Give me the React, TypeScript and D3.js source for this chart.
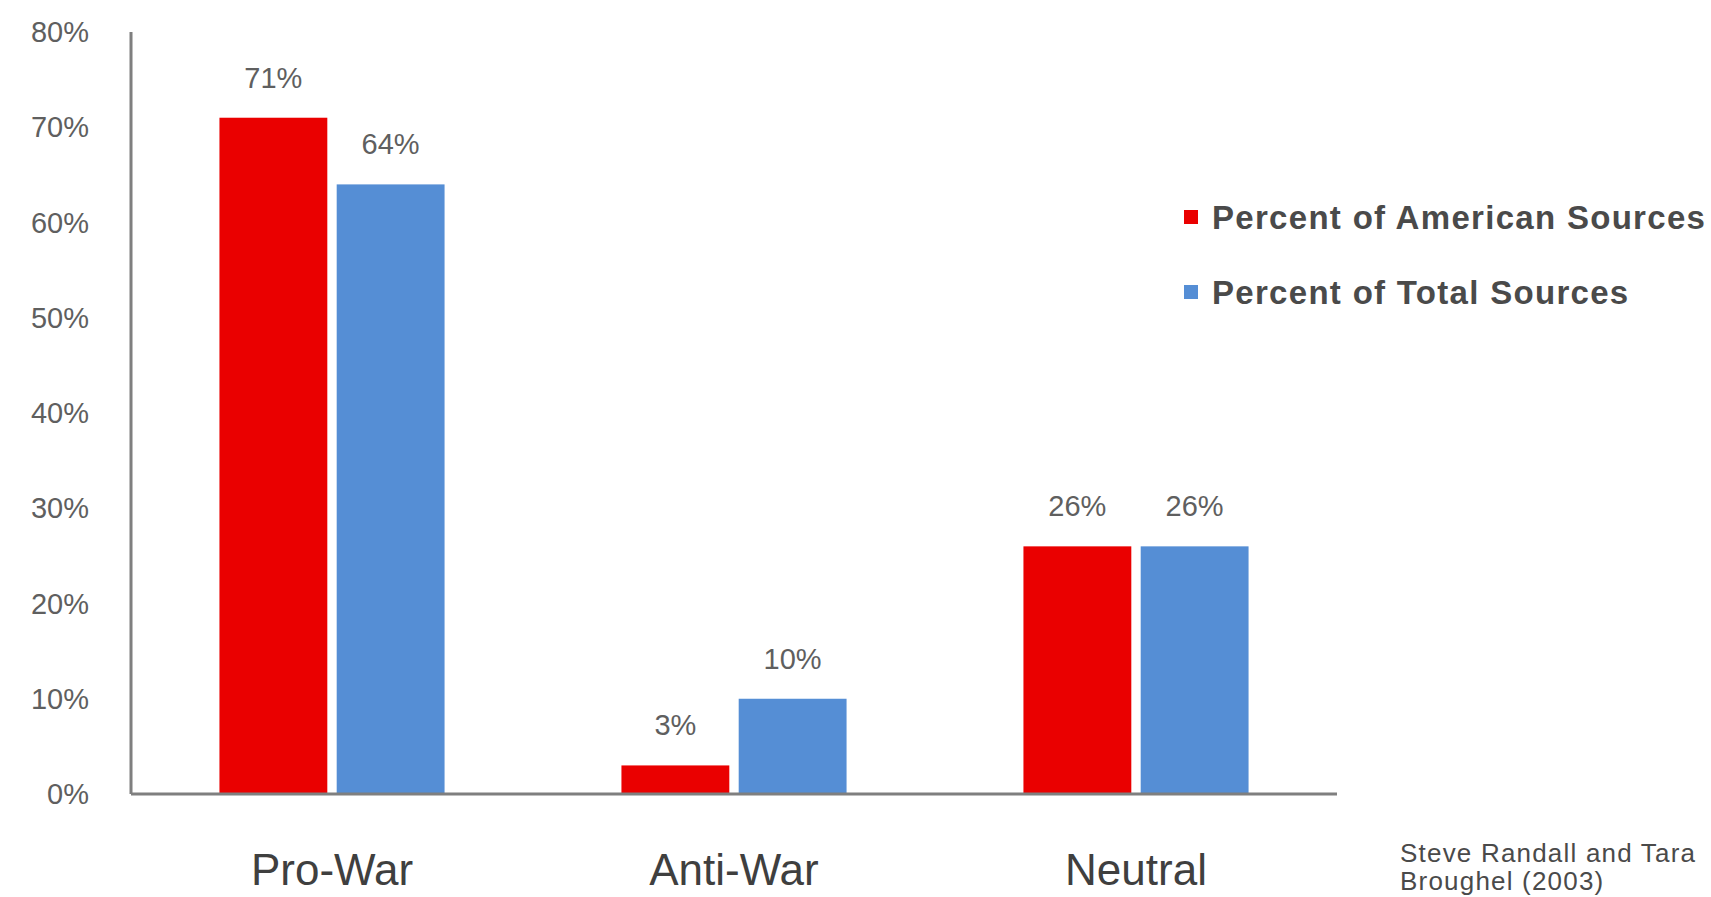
import * as d3 from 'd3';
import { useEffect, useRef } from 'react';

const categories = ['Pro-War', 'Anti-War', 'Neutral'];
const seriesNames = ['Percent of American Sources', 'Percent of Total Sources'];
const americanValues = [71, 3, 26];
const totalValues = [64, 10, 26];
const yTicks = [0, 10, 20, 30, 40, 50, 60, 70, 80];
const sourceLines = ['Steve Randall and Tara', 'Broughel (2003)'];

const colors = ['#ea0000', '#558ed5'];

const App = () => {
  const svgRef = useRef<SVGSVGElement | null>(null);

  useEffect(() => {
    document.body.style.margin = '0';
    const width = 1711;
    const height = 897;
    const left = 131;
    const right = 1337;
    const top = 32;
    const bottom = 794;

    const svg = d3.select(svgRef.current)
      .attr('width', width)
      .attr('height', height)
      .style('font-family', 'Arial, "Liberation Sans", sans-serif');

    const g = svg.append('g');

    const x = d3.scaleBand().domain(categories).range([left, right])
      .paddingInner(0.44).paddingOuter(0.22);
    const inner = d3.scaleBand().domain(seriesNames).range([0, x.bandwidth()])
      .paddingInner(0.08);
    const y = d3.scaleLinear().domain([0, 80]).range([bottom, top]);

    // y tick labels
    g.selectAll('.ytick')
      .data(yTicks)
      .enter()
      .append('text')
      .attr('x', 89)
      .attr('y', (d) => y(d))
      .attr('dy', '0.35em')
      .attr('text-anchor', 'end')
      .attr('fill', '#5f5f5f')
      .style('font-size', '29px')
      .text((d) => `${d}%`);

    // bars
    const series = [americanValues, totalValues];
    series.forEach((vals, si) => {
      g.selectAll(`.bar${si}`)
        .data(vals)
        .enter()
        .append('rect')
        .attr('x', (d, i) => (x(categories[i]) as number) + (inner(seriesNames[si]) as number))
        .attr('y', (d) => y(d))
        .attr('width', inner.bandwidth())
        .attr('height', (d) => bottom - y(d))
        .attr('fill', colors[si]);

      g.selectAll(`.lab${si}`)
        .data(vals)
        .enter()
        .append('text')
        .attr('x', (d, i) => (x(categories[i]) as number) + (inner(seriesNames[si]) as number) + inner.bandwidth() / 2)
        .attr('y', (d) => y(d) - 30)
        .attr('text-anchor', 'middle')
        .attr('fill', '#5f5f5f')
        .style('font-size', '29px')
        .text((d) => `${d}%`);
    });

    // axes lines
    g.append('line')
      .attr('x1', left).attr('x2', left)
      .attr('y1', top).attr('y2', bottom)
      .attr('stroke', '#7f7f7f').attr('stroke-width', 3);
    g.append('line')
      .attr('x1', left).attr('x2', right)
      .attr('y1', bottom).attr('y2', bottom)
      .attr('stroke', '#7f7f7f').attr('stroke-width', 3);

    // category labels
    g.selectAll('.cat')
      .data(categories)
      .enter()
      .append('text')
      .attr('x', (d) => (x(d) as number) + x.bandwidth() / 2)
      .attr('y', 885)
      .attr('text-anchor', 'middle')
      .attr('fill', '#3f3f3f')
      .style('font-size', '44px')
      .text((d) => d);

    // legend
    const legend = g.selectAll('.legend')
      .data(seriesNames)
      .enter()
      .append('g')
      .attr('transform', (d, i) => `translate(1184, ${217 + i * 75})`);
    legend.append('rect')
      .attr('x', 0).attr('y', -7)
      .attr('width', 14).attr('height', 14)
      .attr('fill', (d, i) => colors[i]);
    legend.append('text')
      .attr('x', 28)
      .attr('y', 0)
      .attr('dy', '0.35em')
      .attr('fill', '#4a4a4a')
      .style('font-size', '33px')
      .style('font-weight', 'bold')
      .style('letter-spacing', '1.3px')
      .text((d) => d);

    // source note
    g.selectAll('.src')
      .data(sourceLines)
      .enter()
      .append('text')
      .attr('x', 1400)
      .attr('y', (d, i) => 862 + i * 28)
      .attr('fill', '#4a4a4a')
      .style('font-size', '26px')
      .style('letter-spacing', '1.2px')
      .text((d) => d);

    return () => {
      svg.selectAll('*').remove();
    };
  }, []);

  return <svg ref={svgRef} style={{ display: 'block' }} />;
};

export default App;
